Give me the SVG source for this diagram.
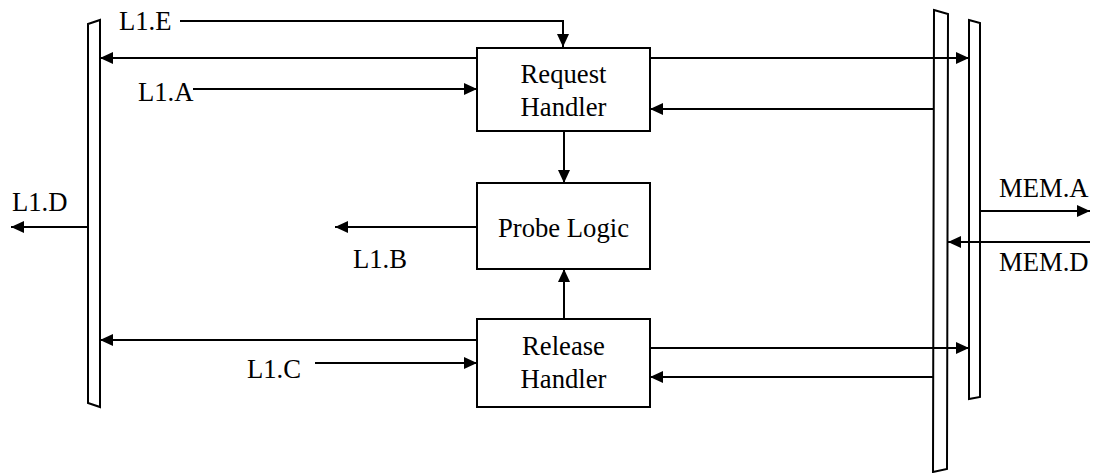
<svg xmlns="http://www.w3.org/2000/svg" width="1096" height="473" viewBox="0 0 1096 473">
  <style>
    .bus { fill: #fff; stroke: #000; stroke-width: 2; stroke-linejoin: miter; }
    .box { fill: #fff; stroke: #000; stroke-width: 2; }
    .wire { fill: none; stroke: #000; stroke-width: 2; }
    .arr { marker-end: url(#ah); }
    .t { font-family: 'Liberation Serif', 'DejaVu Serif', serif; font-size: 26.67px; fill: #000; }
    .c { text-anchor: middle; }
  </style>
  <defs>
    <marker id="ah" markerUnits="userSpaceOnUse" markerWidth="14" markerHeight="13" refX="13" refY="6" orient="auto">
      <path d="M0,0 L13,6 L0,12 z" fill="#000"/>
    </marker>
  </defs>

  <!-- buses -->
  <g id="bus-left">
    <polygon class="bus" points="88,24 100,20 100,407 88,403"/>
  </g>
  <g id="bus-right-outer">
    <polygon class="bus" points="934,10 948,14 947,469 933,472"/>
  </g>
  <g id="bus-right-inner">
    <polygon class="bus" points="969,20 980,23 980,397 969,399"/>
  </g>

  <!-- connectors -->
  <g id="connectors">
    <!-- L1.E into Request Handler -->
    <path class="wire arr" d="M180,21 H563 V47"/>
    <!-- Request Handler to left bus -->
    <path class="wire arr" d="M477,58 H100"/>
    <!-- L1.A into Request Handler -->
    <path class="wire arr" d="M193,89 H477"/>
    <!-- Request Handler to right inner bus -->
    <path class="wire arr" d="M650,58 H969"/>
    <!-- right outer bus back into Request Handler -->
    <path class="wire arr" d="M933,109 H650"/>
    <!-- Request Handler to Probe Logic -->
    <path class="wire arr" d="M564,131 V183"/>
    <!-- Release Handler to Probe Logic -->
    <path class="wire arr" d="M564,319 V269"/>
    <!-- Probe Logic to L1.B -->
    <path class="wire arr" d="M477,227 H335"/>
    <!-- left bus to L1.D -->
    <path class="wire arr" d="M88,227 H11"/>
    <!-- Release Handler to left bus -->
    <path class="wire arr" d="M477,340 H100"/>
    <!-- L1.C into Release Handler -->
    <path class="wire arr" d="M315,363 H477"/>
    <!-- Release Handler to right inner bus -->
    <path class="wire arr" d="M650,348 H969"/>
    <!-- right outer bus back into Release Handler -->
    <path class="wire arr" d="M933,377 H650"/>
    <!-- MEM.A out -->
    <path class="wire arr" d="M980,211 H1090"/>
    <!-- MEM.D in -->
    <path class="wire arr" d="M1090,242 H948"/>
  </g>

  <!-- blocks -->
  <g id="request-handler">
    <rect class="box" x="477" y="48" width="173" height="83"/>
    <text class="t c" x="563.5" y="83">Request</text>
    <text class="t c" x="563.5" y="116">Handler</text>
  </g>
  <g id="probe-logic">
    <rect class="box" x="477" y="183" width="173" height="86"/>
    <text class="t c" x="563.5" y="237">Probe Logic</text>
  </g>
  <g id="release-handler">
    <rect class="box" x="477" y="319" width="173" height="88"/>
    <text class="t c" x="563.5" y="355">Release</text>
    <text class="t c" x="563.5" y="388">Handler</text>
  </g>

  <!-- signal labels -->
  <g id="labels">
    <text class="t" x="119" y="30">L1.E</text>
    <text class="t" x="138" y="101">L1.A</text>
    <text class="t" x="12" y="211">L1.D</text>
    <text class="t" x="353" y="268">L1.B</text>
    <text class="t" x="247" y="378">L1.C</text>
    <text class="t" x="999" y="197">MEM.A</text>
    <text class="t" x="999" y="271">MEM.D</text>
  </g>
</svg>
